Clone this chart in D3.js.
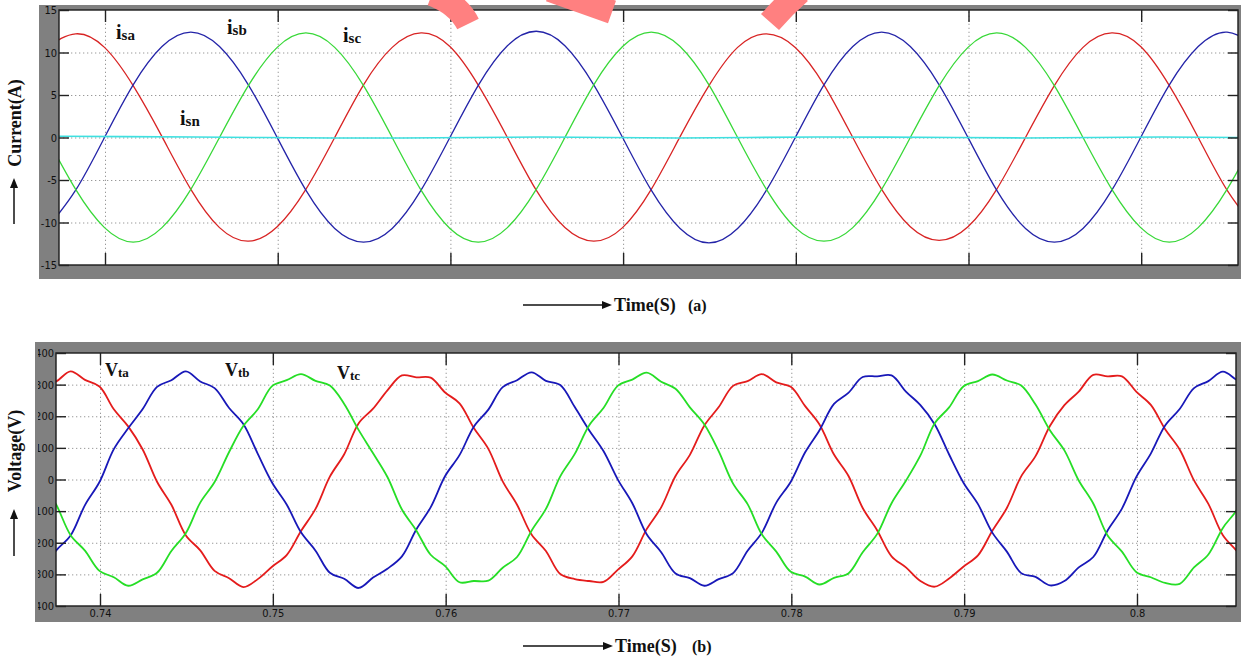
<!DOCTYPE html>
<html>
<head>
<meta charset="utf-8">
<script src="https://cdn.jsdelivr.net/npm/d3@7/dist/d3.min.js"></script>
<style>
  body { margin: 0; background: #fff; }
  svg { display: block; }
</style>
</head>
<body>
<div id="chart"></div>
<script>
// ---- data ----

// (a) source currents, sampled every 1/600 s
const curTime = [0.73663, 0.73830, 0.73997, 0.74163, 0.74330, 0.74497, 0.74663, 0.74830, 0.74997, 0.75163,
  0.75330, 0.75497, 0.75663, 0.75830, 0.75997, 0.76163, 0.76330, 0.76497, 0.76663, 0.76830,
  0.76997, 0.77163, 0.77330, 0.77497, 0.77663, 0.77830, 0.77997, 0.78163, 0.78330, 0.78497,
  0.78663, 0.78830, 0.78997, 0.79163, 0.79330, 0.79497, 0.79663, 0.79830, 0.79997, 0.80163,
  0.80330, 0.80497, 0.80663];
const isa = [10.6, 12.2, 10.6, 6.1, 0.1, -6.1, -10.6, -12.2, -10.5, -6.1,
  0, 6.2, 10.6, 12.3, 10.7, 6.1, 0, -6.2, -10.6, -12.2,
  -10.6, -6.1, 0.1, 6.1, 10.6, 12.2, 10.6, 6.2, 0, -6.1,
  -10.5, -12.1, -10.5, -6.1, 0, 6.1, 10.6, 12.3, 10.7, 6.1,
  0, -6.2, -10.6];
const isb = [-10.7, -6.2, 0, 6.2, 10.7, 12.4, 10.7, 6.2, 0, -6.2,
  -10.7, -12.3, -10.7, -6.2, 0, 6.2, 10.8, 12.5, 10.8, 6.2,
  0, -6.2, -10.7, -12.4, -10.7, -6.2, 0, 6.2, 10.7, 12.4,
  10.7, 6.2, 0, -6.2, -10.7, -12.3, -10.7, -6.2, 0, 6.2,
  10.7, 12.4, 10.7];
const isc = [0, -6.1, -10.6, -12.3, -10.6, -6.1, 0, 6.1, 10.6, 12.3,
  10.6, 6.1, 0, -6.2, -10.7, -12.3, -10.6, -6.1, 0, 6.2,
  10.7, 12.4, 10.7, 6.2, 0, -6.1, -10.6, -12.2, -10.6, -6.1,
  0, 6.1, 10.6, 12.3, 10.6, 6.1, 0, -6.1, -10.6, -12.3,
  -10.6, -6.1, 0];
const isnTime = [0.7372, 0.7412, 0.7452, 0.7492, 0.7532, 0.7572, 0.7612, 0.7652, 0.7692,
  0.7732, 0.7772, 0.7812, 0.7852, 0.7892, 0.7932, 0.7972, 0.8012, 0.8058];
const isn = [0.15, 0.1, 0.05, 0.0, -0.05, -0.05, 0.0, 0.05, 0.0,
  -0.05, 0.0, 0.05, 0.05, 0.0, -0.05, 0.0, 0.05, 0.0];

// (b) terminal voltages, sampled every 1/1200 s
const volTime = [0.73663, 0.73747, 0.73830, 0.73913, 0.73997, 0.74080, 0.74163, 0.74247, 0.74330, 0.74413,
  0.74497, 0.74580, 0.74663, 0.74747, 0.74830, 0.74913, 0.74997, 0.75080, 0.75163, 0.75247,
  0.75330, 0.75413, 0.75497, 0.75580, 0.75663, 0.75747, 0.75830, 0.75913, 0.75997, 0.76080,
  0.76163, 0.76247, 0.76330, 0.76413, 0.76497, 0.76580, 0.76663, 0.76747, 0.76830, 0.76913,
  0.76997, 0.77080, 0.77163, 0.77247, 0.77330, 0.77413, 0.77497, 0.77580, 0.77663, 0.77747,
  0.77830, 0.77913, 0.77997, 0.78080, 0.78163, 0.78247, 0.78330, 0.78413, 0.78497, 0.78580,
  0.78663, 0.78747, 0.78830, 0.78913, 0.78997, 0.79080, 0.79163, 0.79247, 0.79330, 0.79413,
  0.79497, 0.79580, 0.79663, 0.79747, 0.79830, 0.79913, 0.79997, 0.80080, 0.80163, 0.80247,
  0.80330, 0.80413, 0.80497, 0.80580, 0.80663];
const vta = [292, 310, 342, 315, 294, 222, 168, 95, -7, -80,
  -177, -224, -289, -312, -340, -315, -275, -239, -163, -93,
  9, 80, 178, 224, 282, 329, 323, 322, 275, 241,
  163, 97, -6, -80, -174, -226, -299, -315, -321, -324,
  -285, -243, -157, -88, 11, 78, 171, 229, 296, 311,
  333, 307, 293, 232, 174, 79, 12, -90, -161, -243,
  -278, -321, -339, -313, -275, -240, -162, -90, 10, 74,
  170, 235, 278, 331, 326, 326, 277, 236, 159, 95,
  -3, -77, -176, -228, -293];
const vtb = [-292, -224, -177, -81, -8, 96, 162, 223, 293, 314,
  342, 310, 289, 226, 175, 81, -11, -79, -167, -225,
  -295, -314, -343, -310, -282, -243, -158, -88, 11, 77,
  167, 221, 292, 314, 339, 312, 299, 229, 156, 90,
  -1, -75, -173, -230, -297, -312, -336, -315, -296, -225,
  -168, -73, -7, 86, 156, 239, 274, 324, 326, 329,
  278, 235, 174, 79, -11, -78, -168, -228, -296, -308,
  -335, -321, -278, -245, -161, -92, 9, 82, 171, 223,
  289, 311, 341, 314, 293];
const vtc = [-7, -80, -176, -225, -289, -309, -336, -316, -295, -226,
  -169, -73, -8, 87, 170, 222, 296, 314, 333, 312,
  297, 239, 156, 83, 8, -95, -161, -238, -274, -325,
  -321, -320, -279, -245, -162, -93, 10, 81, 171, 226,
  297, 316, 338, 309, 287, 228, 174, 89, -13, -78,
  -174, -228, -292, -307, -332, -311, -297, -230, -172, -75,
  -4, 76, 178, 228, 295, 311, 332, 313, 297, 237,
  155, 92, -3, -76, -177, -228, -293, -309, -327, -330,
  -278, -237, -153, -94, 6];

// axes
const xTickValues = [0.74, 0.75, 0.76, 0.77, 0.78, 0.79, 0.80];
const xTickLabels = ["0.74", "0.75", "0.76", "0.77", "0.78", "0.79", "0.8"];
const curTicks = [-15, -10, -5, 0, 5, 10, 15];
const curTickLabels = ["-15", "-10", "-5", "0", "5", "10", "15"];
const volTicks = [-400, -300, -200, -100, 0, 100, 200, 300, 400];
const volTickLabels = ["-400", "-300", "-200", "-100", "0", "100", "200", "300", "400"];

const W = 1241, H = 661;
const tickFont = "'Liberation Sans Narrow', 'Arial Narrow', 'DejaVu Sans Condensed', sans-serif";
const serif = "'Liberation Serif', 'Times New Roman', serif";

const svg = d3.select("#chart").append("svg")
  .attr("width", W).attr("height", H);
const defs = svg.append("defs");

function drawPanel(p) {
  const x = d3.scaleLinear().domain(p.xDomain).range([p.left, p.right]);
  const y = d3.scaleLinear().domain(p.yDomain).range([p.bottom, p.top]);
  const w = p.right - p.left, h = p.bottom - p.top;

  defs.append("clipPath").attr("id", "plot-" + p.id)
    .append("rect").attr("x", p.left).attr("y", p.top).attr("width", w).attr("height", h);
  defs.append("clipPath").attr("id", "frame-" + p.id)
    .append("rect").attr("x", p.labelClipX).attr("y", p.fy).attr("width", p.fw).attr("height", p.fh);

  const g = svg.append("g");
  // grey figure frame
  g.append("rect").attr("x", p.fx).attr("y", p.fy).attr("width", p.fw).attr("height", p.fh)
    .attr("fill", "#808080");
  g.append("rect").attr("x", p.left).attr("y", p.top).attr("width", w).attr("height", h)
    .attr("fill", "#fff");

  // dotted grid
  g.append("g").attr("transform", `translate(${p.left},0)`)
    .call(d3.axisLeft(y).tickValues(p.yGrid).tickSize(-w).tickFormat(""))
    .call(a => a.select(".domain").remove())
    .call(a => a.selectAll("line").attr("stroke", "#999").attr("stroke-dasharray", "1.3,2.7"));
  g.append("g").attr("transform", `translate(0,${p.bottom})`)
    .call(d3.axisBottom(x).tickValues(xTickValues).tickSize(-h).tickFormat(""))
    .call(a => a.select(".domain").remove())
    .call(a => a.selectAll("line").attr("stroke", "#999").attr("stroke-dasharray", "1.3,2.7"));

  // signal traces
  const lines = g.append("g").attr("clip-path", `url(#plot-${p.id})`);
  p.series.forEach(s => {
    const line = d3.line()
      .x((d, i) => x(s.t[i]))
      .y(d => y(d))
      .curve(s.curve);
    lines.append("path")
      .datum(s.v)
      .attr("fill", "none")
      .attr("stroke", s.color)
      .attr("stroke-width", s.width)
      .attr("stroke-linejoin", "round")
      .attr("d", line);
  });

  // plot border
  g.append("rect").attr("x", p.left).attr("y", p.top).attr("width", w).attr("height", h)
    .attr("fill", "none").attr("stroke", "#1a1a1a").attr("stroke-width", 1.4);

  // inward tick marks on all four sides
  const tickStyle = a => a.call(s => s.select(".domain").remove())
    .call(s => s.selectAll("line").attr("stroke", "#222").attr("stroke-width", 1.4));
  g.append("g").attr("transform", `translate(${p.right},0)`)
    .call(d3.axisRight(y).tickValues(p.yTicks).tickSize(-10).tickFormat(""))
    .call(tickStyle);
  g.append("g").attr("transform", `translate(0,${p.top})`)
    .call(d3.axisTop(x).tickValues(xTickValues).tickSize(-12).tickFormat(""))
    .call(tickStyle);
  g.append("g").attr("transform", `translate(0,${p.bottom})`)
    .call(d3.axisBottom(x).tickValues(xTickValues).tickSize(-12).tickFormat(""))
    .call(tickStyle);

  // left axis: labels clipped by the grey frame, as in the screenshot
  const yAxis = g.append("g").attr("clip-path", `url(#frame-${p.id})`)
    .append("g").attr("transform", `translate(${p.left},0)`)
    .call(d3.axisLeft(y).tickValues(p.yTicks).tickSize(-10).tickPadding(2)
      .tickFormat(d => p.yTickLabels[p.yTicks.indexOf(d)]))
    .call(tickStyle);
  yAxis.selectAll("text").attr("font-family", tickFont).attr("font-size", 11).attr("fill", "#111");

  if (p.xLabels) {
    const xAxis = g.append("g").attr("transform", `translate(0,${p.bottom})`)
      .call(d3.axisBottom(x).tickValues(xTickValues).tickSize(0).tickPadding(3)
        .tickFormat(d => xTickLabels[xTickValues.indexOf(d)]))
      .call(a => a.select(".domain").remove());
    xAxis.selectAll("text").attr("font-family", tickFont).attr("font-size", 11).attr("fill", "#111");
  }

  // trace names
  p.names.forEach(n => {
    const t = g.append("text").attr("x", n.x).attr("y", n.y)
      .attr("font-family", serif).attr("font-weight", "bold").attr("fill", "#111");
    t.append("tspan").attr("font-size", n.big).text(n.main);
    t.append("tspan").attr("font-size", n.small).attr("dy", 1).text(n.sub);
  });

  // vertical axis title with arrow
  g.append("text")
    .attr("transform", `translate(${p.yTitleX},${p.yTitleY}) rotate(-90)`)
    .attr("text-anchor", "middle")
    .attr("font-family", serif).attr("font-weight", "bold").attr("font-size", 18)
    .attr("fill", "#111")
    .text(p.yTitle);
  arrow(g, p.yArrow[0], p.yArrow[1], p.yArrow[2], p.yArrow[3]);

  // horizontal axis title with arrow
  arrow(g, p.xArrow[0], p.xArrow[1], p.xArrow[2], p.xArrow[3]);
  g.append("text").attr("x", p.xTitleX).attr("y", p.xTitleY)
    .attr("font-family", serif).attr("font-weight", "bold").attr("font-size", 18)
    .attr("fill", "#111").text("Time(S)");
  g.append("text").attr("x", p.tagX).attr("y", p.xTitleY)
    .attr("font-family", serif).attr("font-weight", "bold").attr("font-size", 16)
    .attr("fill", "#111").text(p.tag);
}

function arrow(g, x1, y1, x2, y2) {
  const ang = Math.atan2(y2 - y1, x2 - x1);
  const len = 10, half = 4;
  const bx = x2 - len * Math.cos(ang), by = y2 - len * Math.sin(ang);
  g.append("line").attr("x1", x1).attr("y1", y1).attr("x2", bx).attr("y2", by)
    .attr("stroke", "#111").attr("stroke-width", 1.5);
  const px = -Math.sin(ang) * half, py = Math.cos(ang) * half;
  g.append("path")
    .attr("d", `M${x2},${y2}L${bx + px},${by + py}L${bx - px},${by - py}Z`)
    .attr("fill", "#111");
}

// (a) currents
drawPanel({
  id: "a",
  fx: 39, fy: 5, fw: 1202, fh: 274, labelClipX: 39,
  left: 59, right: 1238, top: 10, bottom: 265,
  xDomain: [0.737336, 0.805605], yDomain: [-15, 15],
  yTicks: curTicks, yTickLabels: curTickLabels, yGrid: [-10, -5, 0, 5, 10],
  xLabels: false,
  series: [
    { t: curTime, v: isa, color: "#d82424", width: 1.3, curve: d3.curveNatural },
    { t: curTime, v: isb, color: "#2424a8", width: 1.3, curve: d3.curveNatural },
    { t: curTime, v: isc, color: "#38d838", width: 1.3, curve: d3.curveNatural },
    { t: isnTime, v: isn, color: "#3ee0e0", width: 1.6, curve: d3.curveLinear }
  ],
  names: [
    { x: 116, y: 39, main: "i", sub: "sa", big: 20, small: 15 },
    { x: 227, y: 34, main: "i", sub: "sb", big: 20, small: 15 },
    { x: 343, y: 42, main: "i", sub: "sc", big: 20, small: 15 },
    { x: 180, y: 125, main: "i", sub: "sn", big: 20, small: 15 }
  ],
  yTitle: "Current(A)", yTitleX: 21, yTitleY: 123, yArrow: [14, 224, 14, 178],
  xArrow: [523, 305, 612, 305], xTitleX: 614, xTitleY: 311, tagX: 688, tag: "(a)"
});

// (b) voltages
drawPanel({
  id: "b",
  fx: 35, fy: 342, fw: 1206, fh: 280, labelClipX: 38,
  left: 56, right: 1236, top: 353, bottom: 606,
  xDomain: [0.737454, 0.805729], yDomain: [-400, 400],
  yTicks: volTicks, yTickLabels: volTickLabels, yGrid: [-300, -200, -100, 0, 100, 200, 300],
  xLabels: true,
  series: [
    { t: volTime, v: vta, color: "#e41c1c", width: 1.8, curve: d3.curveCatmullRom },
    { t: volTime, v: vtb, color: "#1818b8", width: 1.8, curve: d3.curveCatmullRom },
    { t: volTime, v: vtc, color: "#26de26", width: 1.8, curve: d3.curveCatmullRom }
  ],
  names: [
    { x: 105, y: 376, main: "V", sub: "ta", big: 18, small: 13 },
    { x: 225, y: 376, main: "V", sub: "tb", big: 18, small: 13 },
    { x: 337, y: 379, main: "V", sub: "tc", big: 18, small: 13 }
  ],
  yTitle: "Voltage(V)", yTitleX: 21, yTitleY: 451, yArrow: [14, 556, 14, 509],
  xArrow: [523, 646, 613, 646], xTitleX: 615, xTitleY: 652, tagX: 692, tag: "(b)"
});

// salmon watermark fragment at the top edge
const mark = svg.append("g").attr("fill", "none").attr("stroke", "#ff8080").attr("stroke-width", 24);
mark.append("path").attr("d", "M432,-6 Q458,4 468,24");
mark.append("path").attr("d", "M550,-10 L612,12");
mark.append("path").attr("d", "M800,-8 Q784,6 770,22");
</script>
</body>
</html>
